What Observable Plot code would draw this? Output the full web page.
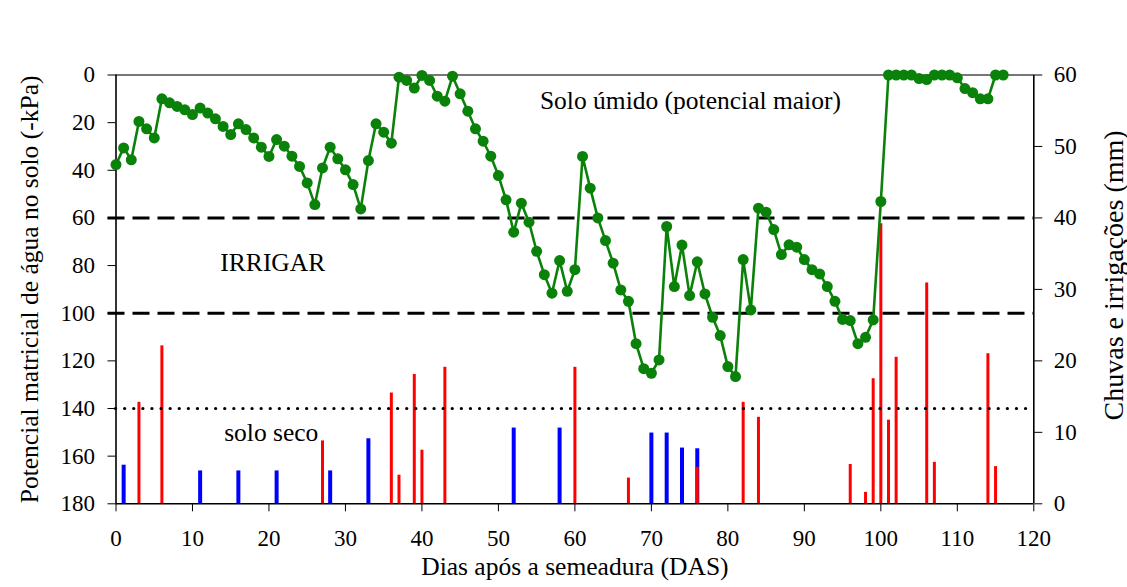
<!DOCTYPE html>
<html>
<head>
<meta charset="utf-8">
<script src="https://cdn.jsdelivr.net/npm/d3@7"></script>
<script src="https://cdn.jsdelivr.net/npm/@observablehq/plot@0.6"></script>
<style>
  html, body { margin: 0; padding: 0; background: #fff; }
  #chart { width: 1127px; height: 587px; }
  #chart svg text { font-family: "Liberation Serif", "Times New Roman", Tinos, "DejaVu Serif", "Noto Serif", FreeSerif, serif !important; }
</style>
</head>
<body>
<div id="chart"></div>
<script>
// Soil water potential (-kPa), one reading per day after sowing
const potentialDays = d3.range(0, 117);
const potentialKpa = [
  37.6,30.6,35.6,19.5,22.6,26.4,10.0,11.7,13.2,14.6,
  16.6,13.9,16.0,18.4,21.6,25.0,20.5,22.9,26.4,30.3,
  34.2,27.1,29.9,34.1,38.4,45.3,54.4,39.0,30.3,35.2,
  39.8,46.0,56.2,35.9,20.5,24.0,28.6,0.9,2.3,5.5,
  0.2,2.3,8.9,11.0,0.5,7.9,15.2,22.6,27.8,34.1,
  42.2,52.4,66.0,53.8,61.8,74.0,83.8,91.6,77.9,90.8,
  81.7,34.2,47.5,60.0,69.5,79.0,90.2,95.0,112.8,123.3,
  125.2,119.6,63.6,88.8,71.4,92.6,78.4,91.9,101.7,109.4,
  122.4,126.6,77.5,98.6,55.9,57.6,64.9,75.4,71.3,72.3,
  77.5,81.7,83.5,88.8,95.0,102.6,103.1,112.8,110.1,102.8,
  53.1,0,0,0,0,1.5,1.9,0,0,0,
  1.2,5.7,7.4,10.0,10.0,0,0
];

// Irrigations (blue) and rains (red), mm
const blueDays = [1,11,16,21,28,33,52,58,70,72,74,76];
const blueMm   = [5.4,4.6,4.6,4.6,4.6,9.1,10.6,10.6,9.9,9.9,7.8,7.7];
const redDays  = [3,6,27,36,37,39,40,43,60,67,76,82,84,96,98,99,100,101,102,106,107,114,115];
const redMm    = [14.2,22.1,8.8,15.5,4.0,18.1,7.5,19.1,19.1,3.6,5.1,14.2,12.1,5.5,1.6,17.5,39.2,11.7,20.5,30.9,5.8,21.0,5.2];

// Reference lines (-kPa)
const irrigateLimits = [60, 100];
const dryLimit = [140];

// Ticks
const xTicks = d3.range(0, 121, 10);
const leftTicks = d3.range(0, 181, 20);
const rightTicks = d3.range(0, 61, 10);

// Annotations
const noteText = ["Solo úmido (potencial maior)", "IRRIGAR", "solo seco"];
const noteDay  = [75.1, 20.5, 20.3];
const noteKpa  = [10.7, 79, 150];

// Axis titles
const xTitle = "Dias após a semeadura (DAS)";
const yLeftTitle = "Potencial matricial de água no solo (-kPa)";
const yRightTitle = "Chuvas e irrigações (mm)";

// right-axis mm mapped onto the shared (-kPa) y scale: 0 mm = 180, 60 mm = 0
const KPA_MAX = 180, MM_MAX = 60;
const mmToY = mm => KPA_MAX - mm * KPA_MAX / MM_MAX;

const potential = potentialDays.map((d, i) => ({day: d, kpa: potentialKpa[i]}));
const blue = blueDays.map((d, i) => ({day: d, mm: blueMm[i]}));
const red = redDays.map((d, i) => ({day: d, mm: redMm[i]}));
const notes = noteText.map((t, i) => ({text: t, day: noteDay[i], kpa: noteKpa[i]}));

const FONT = '"Liberation Serif", "Times New Roman", Tinos, "DejaVu Serif", serif';
const FS = 23;      // tick labels
const FT = 25.5;    // titles and notes

const chart = Plot.plot({
  width: 1127,
  height: 587,
  marginLeft: 115.5,
  marginRight: 93.7,
  marginTop: 74.5,
  marginBottom: 83.7,
  style: {fontFamily: FONT, fontSize: FS + "px", background: "#fff", color: "#000", overflow: "visible"},
  x: {domain: [0, 120]},
  y: {domain: [0, 180], reverse: true},
  marks: [
    // bars: irrigations then rains
    Plot.ruleX(blue, {x: "day", y1: () => KPA_MAX, y2: d => mmToY(d.mm), stroke: "#0000ff", strokeWidth: 4}),
    Plot.ruleX(red, {x: "day", y1: () => KPA_MAX, y2: d => mmToY(d.mm), stroke: "#ff0000", strokeWidth: 3}),
    // reference lines
    Plot.ruleY(irrigateLimits, {stroke: "#000", strokeWidth: 3, strokeDasharray: "17,8", insetLeft: -8}),
    Plot.ruleY(dryLimit, {stroke: "#000", strokeWidth: 3.2, strokeDasharray: "0.1,9", strokeLinecap: "round"}),
    // frame
    Plot.ruleY([0], {stroke: "#777", strokeWidth: 2}),
    Plot.ruleY([KPA_MAX], {stroke: "#000", strokeWidth: 1.6}),
    Plot.ruleX([0, 120], {stroke: "#000", strokeWidth: 1.6}),
    // axes
    Plot.axisX({ticks: xTicks, tickSize: 8, tickPadding: 18, tickFormat: d => String(d), label: null, fontSize: FS}),
    Plot.axisY({anchor: "left", ticks: leftTicks, tickSize: 8, tickPadding: 13, tickFormat: d => String(d), label: null, fontSize: FS}),
    Plot.axisY({anchor: "right", ticks: rightTicks.map(mmToY), tickSize: 8, tickPadding: 12,
      tickFormat: d => String(Math.round((KPA_MAX - d) * MM_MAX / KPA_MAX)), label: null, fontSize: FS}),
    // soil water potential
    Plot.line(potential, {x: "day", y: "kpa", stroke: "#0a820a", strokeWidth: 2.6}),
    Plot.dot(potential, {x: "day", y: "kpa", r: 5.5, fill: "#0a820a", stroke: "none"}),
    // annotations
    Plot.text(notes, {x: "day", y: "kpa", text: "text", fontSize: FT, fill: "#000"}),
    // titles
    Plot.text([xTitle], {frameAnchor: "bottom", textAnchor: "middle", dy: 71, fontSize: FT, fill: "#000"}),
    Plot.text([yLeftTitle], {frameAnchor: "left", textAnchor: "middle", dx: -86, rotate: -90, fontSize: FT, fill: "#000"}),
    Plot.text([yRightTitle], {frameAnchor: "right", textAnchor: "middle", dx: 80, dy: -14, rotate: -90, fontSize: 28, fill: "#000"})
  ]
});

document.getElementById("chart").appendChild(chart);
</script>
</body>
</html>
